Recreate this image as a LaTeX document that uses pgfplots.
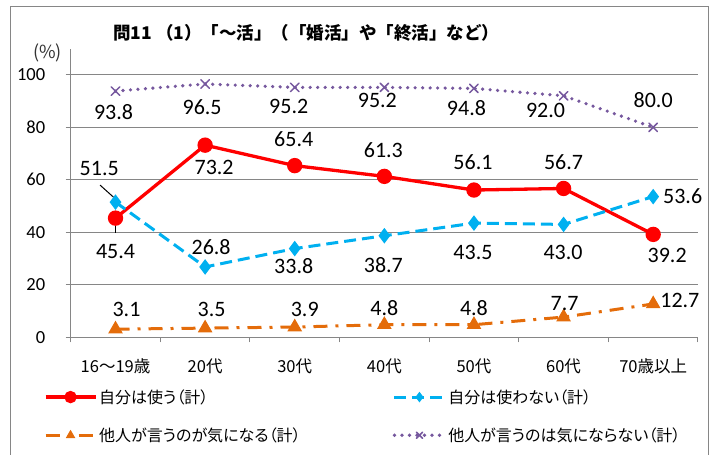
\documentclass[border=0pt]{standalone}
\usepackage{fontspec}
\usepackage{pgfplots}
\pgfplotsset{compat=1.18}
\setmainfont{Carlito}
\newfontfamily\jp[RawFeature=+palt]{Noto Sans CJK JP}
\newfontfamily\jpfull{Noto Sans CJK JP}
\definecolor{cred}{RGB}{255,0,0}
\definecolor{cblue}{RGB}{0,176,240}
\definecolor{corange}{RGB}{228,108,10}
\definecolor{cpurple}{RGB}{118,88,158}
\definecolor{cgrid}{RGB}{134,134,134}
\pgfplotstableread{
x y dx dy
0 45.4 0 -33.6
1 73.2 9 -22.5
2 65.4 -1 26.6
3 61.3 -1 26.4
4 56.1 -1 28.3
5 56.7 0 26.8
6 39.2 14 -20.6
}\tred
\pgfplotstableread{
x y dx dy
0 51.5 -16.3 33.8
1 26.8 6 20.3
2 33.8 -1 -17.4
3 38.7 -1 -29.3
4 43.5 -1 -29.6
5 43.0 -0.5 -28.3
6 53.6 29.5 0
}\tblue
\pgfplotstableread{
x y dx dy
0 3.1 11 20
1 3.5 6.5 19
2 3.9 10 18
3 4.8 0 16.4
4 4.8 0 16.4
5 7.7 1 13.8
6 12.7 26.7 4
}\torange
\pgfplotstableread{
x y dx dy
0 93.8 -2 -20.6
1 96.5 -3 -22.7
2 95.2 -6 -19.3
3 95.2 -7 -12.6
4 94.8 -7.5 -19.8
5 92.0 -18 -15
6 80.0 0 27
}\tpurple
\begin{document}
\begin{tikzpicture}
\useasboundingbox (-70.7bp,-117.7bp) rectangle (645.3bp,337.3bp);
\draw[cgrid, line width=1bp] (-59.7bp,-130bp) -- (-59.7bp,330.6bp) -- (637.3bp,330.6bp) -- (637.3bp,-130bp);
\begin{axis}[
  at={(0,0)}, anchor=south west,
  scale only axis, width=627.3bp, height=288.75bp,
  xmin=-0.5, xmax=6.5, ymin=0, ymax=110,
  axis x line=bottom, axis y line=left,
  axis line style={cgrid, line width=1bp, -},
  ytick={0,20,...,100}, ymajorgrids,
  grid style={cgrid, line width=1bp},
  xtick={-0.5,0.5,...,6.5}, xticklabels={},
  extra x ticks={0,1,2,3,4,5,6},
  extra x tick labels={16～19歳,20代,30代,40代,50代,60代,70歳以上},
  extra x tick style={major tick length=0pt, xticklabel style={font=\jp\fontsize{16.5bp}{19bp}\selectfont, anchor=center, yshift=-29bp}},
  tick align=outside, major tick length=5bp,
  tick style={cgrid, line width=1bp},
  yticklabel style={font=\fontsize{18.5bp}{21bp}\selectfont, anchor=east, xshift=-17bp},
  /pgf/number format/assume math mode=true,
  clip=false,
  nodes near coords={\pgfmathprintnumber[fixed,fixed zerofill,precision=1,assume math mode=true]{\pgfplotspointmeta}},
  visualization depends on={\thisrow{dx}\as\lx},
  visualization depends on={\thisrow{dy}\as\ly},
  every node near coord/.append style={anchor=center, inner sep=0pt, xshift=\lx bp, yshift=\ly bp, font=\fontsize{22bp}{25bp}\selectfont, text=black},
  legend columns=2,
  legend cell align=left,
  legend image code/.code={\draw[mark repeat=2,mark phase=2,#1, mark size=4.5bp] plot coordinates {(0bp,0bp) (25bp,0bp) (50bp,0bp)};},
  legend style={draw=none, fill=none, at={(axis description cs:0,0)}, anchor=north west, xshift=-30bp, yshift=-48bp,
    font=\jp\fontsize{16bp}{19bp}\selectfont, row sep=19bp,
    /tikz/every even column/.append style={column sep=90bp}},
]
\addplot[cred, line width=3.3bp, mark=*, mark size=6bp, mark options={solid, fill=cred}] table[x=x,y=y] {\tred};
\addlegendentry{自分は使う（計）}
\addplot[cblue, line width=3bp, dash pattern=on 12bp off 6bp, mark=diamond*, mark size=7bp, mark options={solid, fill=cblue, line width=1bp}] table[x=x,y=y] {\tblue};
\addlegendentry{自分は使わない（計）}
\addplot[corange, line width=3bp, dash pattern=on 14bp off 8bp on 3bp off 8bp, mark=triangle*, mark size=7.5bp, mark options={solid, fill=corange, line width=1bp}] table[x=x,y=y] {\torange};
\addlegendentry{他人が言うのが気になる（計）}
\addplot[cpurple, line width=3.6bp, line cap=round, dash pattern=on 0bp off 7.5bp, mark=x, mark size=6bp, mark options={solid, line width=1.5bp}] table[x=x,y=y] {\tpurple};
\addlegendentry{他人が言うのは気にならない（計）}
\draw[black, line width=1bp] (axis cs:-0.173,58.0) -- (axis cs:-0.02,53.3);
\draw[black, line width=1bp] (axis cs:0,43.3) -- (axis cs:0,39.7);
\node[anchor=west, font=\jpfull\bfseries\fontsize{17.5bp}{20bp}\selectfont, inner sep=0pt] at (axis description cs:0,0) [xshift=42.3bp, yshift=304.3bp] {問11\ （1）「～活」（「婚活」や「終活」など）};
\node[anchor=center, font=\jpfull\fontsize{18bp}{20bp}\selectfont, inner sep=0pt, text=black!80] at (axis description cs:0,0) [xshift=-23bp, yshift=284bp] {(\%)};
\end{axis}
\end{tikzpicture}
\end{document}
